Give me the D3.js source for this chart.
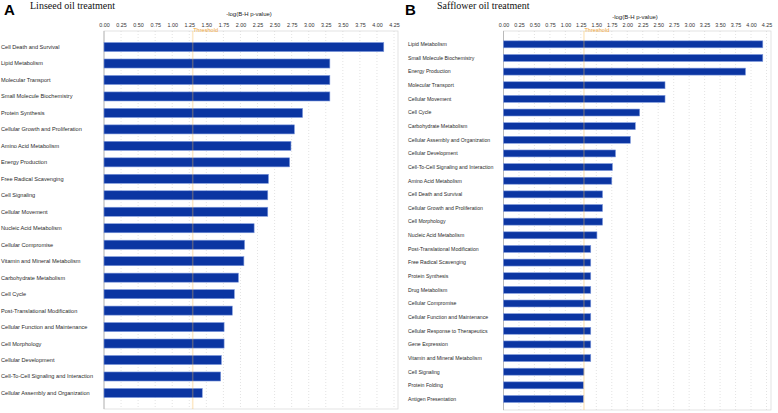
<!DOCTYPE html>
<html>
<head>
<meta charset="utf-8">
<script src="https://cdn.jsdelivr.net/npm/d3@7"></script>
<style>
  body { margin: 0; background: #fff; }
  svg { display: block; }
  .cat { font-family: "Liberation Sans", Arial, sans-serif; fill: #2a2a2a; }
  .tick text { font-family: "Liberation Sans", Arial, sans-serif; fill: #333; }
</style>
</head>
<body>
<svg id="chart" width="778" height="413"></svg>
<script>
// Panel A - linseed oil
var linseedCats = ['Cell Death and Survival', 'Lipid Metabolism', 'Molecular Transport',
  'Small Molecule Biochemistry', 'Protein Synthesis', 'Cellular Growth and Proliferation',
  'Amino Acid Metabolism', 'Energy Production', 'Free Radical Scavenging', 'Cell Signaling',
  'Cellular Movement', 'Nucleic Acid Metabolism', 'Cellular Compromise',
  'Vitamin and Mineral Metabolism', 'Carbohydrate Metabolism', 'Cell Cycle',
  'Post-Translational Modification', 'Cellular Function and Maintenance', 'Cell Morphology',
  'Cellular Development', 'Cell-To-Cell Signaling and Interaction', 'Cellular Assembly and Organization']
var linseedVals = [4.10, 3.31, 3.31, 3.31, 2.91, 2.79, 2.74, 2.72, 2.41, 2.40, 2.40, 2.20,
  2.06, 2.05, 1.97, 1.91, 1.88, 1.76, 1.76, 1.72, 1.71, 1.44]

// Panel B - safflower oil
var saffCats = ['Lipid Metabolism', 'Small Molecule Biochemistry', 'Energy Production',
  'Molecular Transport', 'Cellular Movement', 'Cell Cycle', 'Carbohydrate Metabolism',
  'Cellular Assembly and Organization', 'Cellular Development', 'Cell-To-Cell Signaling and Interaction',
  'Amino Acid Metabolism', 'Cell Death and Survival', 'Cellular Growth and Proliferation',
  'Cell Morphology', 'Nucleic Acid Metabolism', 'Post-Translational Modification',
  'Free Radical Scavenging', 'Protein Synthesis', 'Drug Metabolism', 'Cellular Compromise',
  'Cellular Function and Maintenance', 'Cellular Response to Therapeutics', 'Gene Expression',
  'Vitamin and Mineral Metabolism', 'Cell Signaling', 'Protein Folding', 'Antigen Presentation']
var saffVals = [4.19, 4.19, 3.91, 2.61, 2.61, 2.20, 2.13, 2.05, 1.81, 1.76, 1.75, 1.60, 1.60,
  1.60, 1.51, 1.41, 1.41, 1.41, 1.41, 1.41, 1.41, 1.41, 1.41, 1.41, 1.30, 1.29, 1.29]

var tickVals = [0, 0.25, 0.5, 0.75, 1, 1.25, 1.5, 1.75, 2, 2.25, 2.5, 2.75, 3, 3.25, 3.5, 3.75, 4, 4.25]
var threshold = 1.3

var svg = d3.select('#chart')

drawPanel({
  letter: 'A', title: 'Linseed  oil  treatment', letterX: 4, titleX: 30,
  cats: linseedCats, vals: linseedVals,
  x0: 104, x1: 394, frameR: 398, top: 31, bottom: 409,
  yr: [38.8, 401.2], pad: 0.45, labelX: 1, fs: 5.6, axisTitleY: 16
})
drawPanel({
  letter: 'B', title: 'Safflower  oil  treatment', letterX: 405, titleX: 437,
  cats: saffCats, vals: saffVals,
  x0: 503.5, x1: 766.5, frameR: 771, top: 31, bottom: 410,
  yr: [37.5, 405.8], pad: 0.49, labelX: 408, fs: 5.2, axisTitleY: 19
})

function drawPanel(p) {
  var g = svg.append('g')

  g.append('text')
      .attr('x', p.letterX).attr('y', 15)
      .style('font-family', '"Liberation Sans", Arial, sans-serif')
      .style('font-weight', 'bold').style('font-size', '15px')
      .text(p.letter)
  g.append('text')
      .attr('x', p.titleX).attr('y', 9)
      .style('font-family', '"Liberation Serif", "Times New Roman", serif')
      .style('font-size', '10px').style('fill', '#111')
      .text(p.title)

  var x = d3.scaleLinear().domain([0, 4.25]).range([p.x0, p.x1])
  var y = d3.scaleBand().domain(p.cats).range(p.yr)
      .paddingInner(p.pad).paddingOuter(p.pad / 2)

  // frame
  g.append('rect')
      .attr('x', p.x0).attr('y', p.top)
      .attr('width', p.frameR - p.x0).attr('height', p.bottom - p.top)
      .attr('fill', '#fff').attr('stroke', '#dcdcdc').attr('stroke-width', 0.8)

  // dotted grid
  g.selectAll('.grid').data(tickVals.slice(1)).enter().append('line')
      .attr('x1', x).attr('x2', x)
      .attr('y1', p.top).attr('y2', p.bottom)
      .attr('stroke', '#d0d0d0').attr('stroke-width', 0.6)
      .attr('stroke-dasharray', '1,2')

  g.append('line')
      .attr('x1', p.x0).attr('x2', p.x0).attr('y1', p.top).attr('y2', p.bottom)
      .attr('stroke', '#b0b0b0').attr('stroke-width', 0.8)

  // axis on top
  var axis = d3.axisTop(x).tickValues(tickVals).tickSize(0).tickPadding(0)
      .tickFormat(d3.format('.2f'))
  var ag = g.append('g').attr('transform', 'translate(0,' + (p.top - 4) + ')').call(axis)
  ag.select('.domain').remove()
  ag.selectAll('text').style('font-size', '5.4px')

  g.append('text')
      .attr('x', (p.x0 + p.x1) / 2).attr('y', p.axisTitleY)
      .attr('text-anchor', 'middle')
      .style('font-family', '"Liberation Sans", Arial, sans-serif')
      .style('font-size', '6px').style('fill', '#222')
      .text('-log(B-H p-value)')

  // bars
  g.selectAll('.bar').data(p.cats).enter().append('rect')
      .attr('x', p.x0)
      .attr('y', function(d) { return y(d) })
      .attr('width', function(d, i) { return x(p.vals[i]) - p.x0 })
      .attr('height', y.bandwidth())
      .attr('fill', '#0b35a2')
      .attr('stroke', '#7d98dc').attr('stroke-width', 0.6)

  // category labels
  g.selectAll('.cat').data(p.cats).enter().append('text')
      .attr('class', 'cat')
      .attr('x', p.labelX)
      .attr('y', function(d) { return y(d) + y.bandwidth() / 2 })
      .attr('dy', '0.35em')
      .style('font-size', p.fs + 'px')
      .text(function(d) { return d })

  // threshold
  g.append('line')
      .attr('x1', x(threshold)).attr('x2', x(threshold))
      .attr('y1', p.top).attr('y2', p.bottom)
      .attr('stroke', '#f7b54a').attr('stroke-opacity', 0.3).attr('stroke-width', 1.6)
  g.append('text')
      .attr('x', x(threshold) + 0.5).attr('y', p.top + 0.5)
      .style('font-family', '"Liberation Sans", Arial, sans-serif')
      .style('font-size', '5.6px').style('fill', '#f2a83a')
      .text('Threshold')
}
</script>
</body>
</html>
